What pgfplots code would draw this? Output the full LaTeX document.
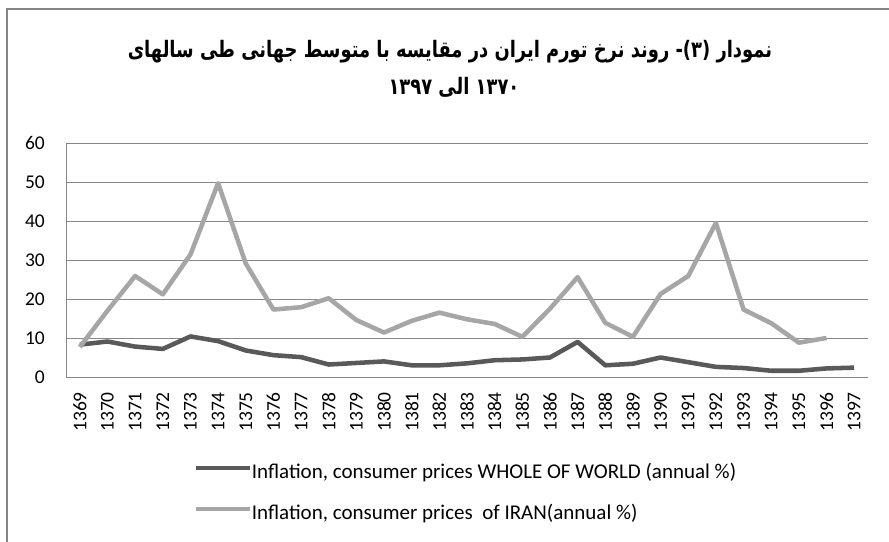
\documentclass[border=0pt]{standalone}
\usepackage{fontspec}
\setmainfont{Carlito}
\newfontfamily\arabicfont[Script=Arabic]{DejaVu Sans}
\TeXXeTstate=1
\usepackage{graphicx}
\usepackage{pgfplots}
\pgfplotsset{compat=1.18}
\definecolor{worldc}{HTML}{595959}
\definecolor{iranc}{HTML}{A6A6A6}
\definecolor{gridc}{HTML}{868686}
\pgfplotstableread{
x world iran
0 8.3 7.7
1 9.1 17.0
2 7.8 25.9
3 7.2 21.2
4 10.4 31.4
5 9.2 49.7
6 6.8 29.1
7 5.6 17.3
8 5.1 17.9
9 3.2 20.2
10 3.6 14.6
11 4.0 11.4
12 3.0 14.4
13 3.0 16.5
14 3.5 14.8
15 4.3 13.6
16 4.5 10.3
17 5.0 17.5
18 9.0 25.6
19 3.0 13.9
20 3.4 10.3
21 5.0 21.3
22 3.8 25.9
23 2.6 39.5
24 2.3 17.3
25 1.6 13.8
26 1.6 8.8
27 2.2 10.0
28 2.4 nan
}\datatable
\begin{document}
\begin{tikzpicture}
\useasboundingbox (0,0) rectangle (666.75pt,-406.5pt);
\begin{scope}
\clip (0,0) rectangle (666.75pt,-406.5pt);
\draw[gridc, line width=0.9pt] (5.25pt,-6.75pt) rectangle (680pt,-420pt);
\end{scope}
\node[inner sep=0pt] at (337.5pt,-39pt)
  {\scalebox{0.79}[1]{\arabicfont\bfseries\fontsize{17}{20}\selectfont\beginR نمودار (۳)- روند نرخ تورم ایران در مقایسه با متوسط جهانی طی سالهای\endR}};
\node[inner sep=0pt] at (340.5pt,-65.25pt)
  {\scalebox{0.79}[1]{\arabicfont\bfseries\fontsize{17}{20}\selectfont\beginR ۱۳۷۰ الی ۱۳۹۷\endR}};
\begin{axis}[
  at={(49.5pt,-282.75pt)}, anchor=south west,
  scale only axis, width=601.5pt, height=175.5pt,
  xmin=-0.5, xmax=28.5, ymin=0, ymax=60,
  axis x line*=bottom, axis y line*=left,
  axis line style={gridc, line width=0.75pt, -},
  xtick={0,...,28},
  xticklabels={1369,1370,1371,1372,1373,1374,1375,1376,1377,1378,1379,1380,1381,1382,1383,1384,1385,1386,1387,1388,1389,1390,1391,1392,1393,1394,1395,1396,1397},
  ytick={0,10,...,60},
  major tick length=0pt,
  ymajorgrids, grid style={gridc, line width=0.75pt},
  tick label style={font=\fontsize{14.6}{17}\selectfont},
  /pgf/number format/assume math mode=true,
  xticklabel style={rotate=90, anchor=east, inner sep=0pt, xshift=-11.25pt},
  yticklabel style={anchor=east, inner sep=0pt, xshift=-15.75pt},
  legend style={at={(axis description cs:0.1584,-0.372)}, anchor=north west, draw=none, fill=none,
    font=\fontsize{15.75}{18}\selectfont, row sep=16.25pt, inner sep=0pt,
    nodes={inner sep=0pt, text height=11pt, text depth=3.5pt}},
  legend cell align=left,
  legend image code/.code={\draw[#1] (0pt,4.5pt) -- (40.5pt,4.5pt);},
]
\addplot[worldc, line width=3.4pt, line join=round] table[x=x, y=world] {\datatable};
\addlegendentry{Inflation, consumer prices WHOLE OF WORLD (annual \%)}
\addplot[iranc, line width=3.4pt, line join=round, unbounded coords=discard] table[x=x, y=iran] {\datatable};
\addlegendentry{Inflation, consumer prices\ \ of IRAN(annual \%)}
\end{axis}
\end{tikzpicture}
\end{document}
